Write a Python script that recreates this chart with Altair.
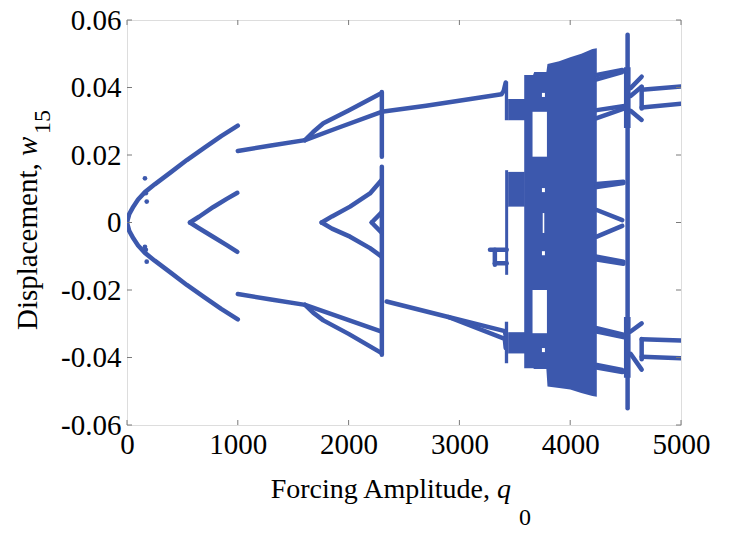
import altair as alt
import pandas as pd

BLUE = "#3c58ad"
GREY = "#7a7a7a"
FONT = "Liberation Serif"

# ---------------- curved branches (forcing amplitude q0, displacement w15) ----------------
p1_q = [0, 20, 57, 100, 162, 250, 400, 540, 700, 850, 1000]
p1_upper = [0, 0.0025, 0.0047, 0.0068, 0.0090, 0.0113, 0.0150, 0.0185, 0.0222, 0.0256, 0.0287]
p1_lower = [0, -0.0025, -0.0047, -0.0068, -0.0090, -0.0113, -0.0150, -0.0185, -0.0222, -0.0256, -0.0287]

cusp1_q = [568, 650, 780, 900, 996]
cusp1_upper = [0, 0.0017, 0.0046, 0.0070, 0.0088]
cusp1_lower = [0, -0.0017, -0.0043, -0.0067, -0.0087]

p2_q = [1000, 1300, 1607]
p2_upper = [0.0212, 0.0228, 0.0244]
p2_lower = [-0.0212, -0.0228, -0.0244]

outer_q = [1607, 1680, 1772, 2000, 2298]
outer_upper = [0.0244, 0.0268, 0.0294, 0.0332, 0.0384]
outer_lower = [-0.0244, -0.0267, -0.0290, -0.0330, -0.0387]

inner_up_q = [1607, 1900, 2298, 2700, 3100, 3380, 3400, 3418]
inner_up_w = [0.0244, 0.0280, 0.0328, 0.0346, 0.0366, 0.0380, 0.0390, 0.0415]
inner_lo_q = [1607, 2298]
inner_lo_w = [-0.0244, -0.0323]

cusp2_q = [1757, 1850, 2013, 2193, 2298]
cusp2_upper = [0, 0.0018, 0.0047, 0.0086, 0.0126]
cusp2_lower = [0, -0.0018, -0.0042, -0.0076, -0.0101]

post_a_q = [2343, 2900, 3410, 3418]
post_a_w = [-0.0234, -0.0280, -0.0322, -0.0335]
post_b_q = [2900, 3410, 3418]
post_b_w = [-0.0280, -0.0345, -0.0372]

curves = [
    ("p1u", p1_q, p1_upper), ("p1l", p1_q, p1_lower),
    ("c1u", cusp1_q, cusp1_upper), ("c1l", cusp1_q, cusp1_lower),
    ("p2u", p2_q, p2_upper), ("p2l", p2_q, p2_lower),
    ("ou", outer_q, outer_upper), ("ol", outer_q, outer_lower),
    ("iu", inner_up_q, inner_up_w), ("il", inner_lo_q, inner_lo_w),
    ("c2u", cusp2_q, cusp2_upper), ("c2l", cusp2_q, cusp2_lower),
    ("pa", post_a_q, post_a_w), ("pb", post_b_q, post_b_w),
]
curve_rows = []
for name, qs, ws in curves:
    for i, (q, w) in enumerate(zip(qs, ws)):
        curve_rows.append({"branch": name, "seq": i, "q": q, "w": w})
curve_df = pd.DataFrame(curve_rows)

# ---------------- straight segments ----------------
seg_q0 = [2300, 2300, 2298, 2208,
          3276, 3320, 3320,
          4240, 4240, 4240, 4240, 4240, 4240, 4240, 4240, 4240, 4240, 4240, 4240, 4240, 4240,
          4518,
          4545, 4545, 4645, 4545, 4545, 4645, 4545,
          4645, 4645, 4645, 4645]
seg_q1 = [2300, 2300, 2208, 2298,
          3427, 3427, 3320,
          4470, 4470, 4490, 4490, 4480, 4480, 4470, 4470, 4480, 4480, 4490, 4490, 4470, 4470,
          4518,
          4645, 4645, 4645, 4645, 4645, 4645, 4645,
          5000, 5000, 5000, 5000]
seg_w0 = [0.0387, 0.0165, 0.0030, 0.0,
          -0.0081, -0.0121, -0.0081,
          0.0437, 0.0424, 0.0333, 0.0309, 0.0114, 0.0105, 0.0037, -0.0042, -0.0101, -0.0110, -0.0313, -0.0323, -0.0422, -0.0430,
          -0.0550,
          0.0398, 0.0375, 0.0402, 0.0331, -0.0323, -0.0345, -0.0389,
          0.0393, 0.0341, -0.0346, -0.0398]
seg_w1 = [0.0195, -0.0392, 0.0, -0.0030,
          -0.0081, -0.0121, -0.0125,
          0.0452, 0.0446, 0.0345, 0.0338, 0.0121, 0.0117, 0.0007, -0.0010, -0.0116, -0.0122, -0.0333, -0.0340, -0.0437, -0.0443,
          0.0556,
          0.0432, 0.0402, 0.0338, 0.0304, -0.0299, -0.0405, -0.0436,
          0.0403, 0.0352, -0.0350, -0.0402]
seg_df = pd.DataFrame({"q0": seg_q0, "q1": seg_q1, "w0": seg_w0, "w1": seg_w1})

# ---------------- chaotic envelope (upper and lower edge of the attractor) ----------------
chaos_q = [3585, 3665, 3675, 3785, 3795, 3900, 4000, 4100, 4200, 4240]
chaos_top = [0.0437, 0.0437, 0.0446, 0.0446, 0.0470, 0.0478, 0.0490, 0.0500, 0.0514, 0.0516]
chaos_bottom = [-0.0432, -0.0432, -0.0434, -0.0434, -0.0486, -0.0490, -0.0495, -0.0505, -0.0514, -0.0516]
chaos_df = pd.DataFrame({"q": chaos_q, "top": chaos_top, "bottom": chaos_bottom})

# smaller filled bands around the onset of chaos and at the crisis line
band_q0 = [3410, 3440, 3440, 3413, 3410, 3440, 4485, 4485]
band_q1 = [3440, 3592, 3590, 3440, 3440, 3592, 4545, 4545]
band_w0 = [0.0303, 0.0303, 0.0047, -0.0155, -0.0417, -0.0388, 0.0280, -0.0460]
band_w1 = [0.0417, 0.0366, 0.0150, 0.0155, -0.0294, -0.0325, 0.0460, -0.0280]
band_df = pd.DataFrame({"q0": band_q0, "q1": band_q1, "w0": band_w0, "w1": band_w1})

# periodic windows inside the chaotic band
hole_q0 = [3660, 3660, 3745, 3745, 3745, 3745, 3752]
hole_q1 = [3790, 3790, 3772, 3772, 3772, 3772, 3766]
hole_w0 = [0.0195, -0.0328, 0.0372, 0.0090, -0.0097, -0.0384, -0.0031]
hole_w1 = [0.0328, -0.0200, 0.0384, 0.0102, -0.0085, -0.0372, 0.0028]
hole_df = pd.DataFrame({"q0": hole_q0, "q1": hole_q1, "w0": hole_w0, "w1": hole_w1})

# isolated points near the first bifurcation
dot_q = [162, 170, 178, 162, 170, 178]
dot_w = [0.0131, 0.0087, 0.0062, -0.0072, -0.0081, -0.0116]
dot_df = pd.DataFrame({"q": dot_q, "w": dot_w})

x_ticks = [0, 1000, 2000, 3000, 4000, 5000]
y_ticks = [-0.06, -0.04, -0.02, 0, 0.02, 0.04, 0.06]

W, H = 554, 405
xs = alt.Scale(domain=[0, 5000], nice=False, zero=False)
ys = alt.Scale(domain=[-0.06, 0.06], nice=False, zero=False)

x_axis = alt.Axis(values=x_ticks, ticks=False, domain=False, grid=False, labelFont=FONT,
                  labelFontSize=29, labelColor="black", labelPadding=5, title=None,
                  format="d", labelFlush=False)
y_axis = alt.Axis(values=y_ticks, ticks=False, domain=False, grid=False, labelFont=FONT,
                  labelFontSize=29, labelColor="black", labelPadding=6, title=None,
                  labelExpr="datum.value == 0 ? '0' : (datum.value < 0 ? '-' + format(-datum.value, '.2f') : format(datum.value, '.2f'))")

chaos = alt.Chart(chaos_df).mark_area(color=BLUE, opacity=1, interpolate="linear").encode(
    x=alt.X("q:Q", scale=xs, axis=x_axis),
    y=alt.Y("top:Q", scale=ys, axis=y_axis), y2="bottom:Q")

bands = alt.Chart(band_df).mark_rect(color=BLUE).encode(
    x=alt.X("q0:Q", scale=xs), x2="q1:Q", y=alt.Y("w0:Q", scale=ys), y2="w1:Q")

holes = alt.Chart(hole_df).mark_rect(color="white").encode(
    x=alt.X("q0:Q", scale=xs), x2="q1:Q", y=alt.Y("w0:Q", scale=ys), y2="w1:Q")

lines = alt.Chart(curve_df).mark_line(color=BLUE, strokeWidth=4.5, strokeCap="round",
                                      strokeJoin="round", clip=True).encode(
    x=alt.X("q:Q", scale=xs), y=alt.Y("w:Q", scale=ys), detail="branch:N", order="seq:Q")

segs = alt.Chart(seg_df).mark_rule(color=BLUE, strokeWidth=4.5, strokeCap="round", clip=True).encode(
    x=alt.X("q0:Q", scale=xs), x2="q1:Q", y=alt.Y("w0:Q", scale=ys), y2="w1:Q")

dots = alt.Chart(dot_df).mark_circle(color=BLUE, size=22, opacity=1).encode(
    x=alt.X("q:Q", scale=xs), y=alt.Y("w:Q", scale=ys))

# inward tick marks on all four sides of the box
xt_df = pd.DataFrame({"t": x_ticks})
yt_df = pd.DataFrame({"t": y_ticks})
tick_style = dict(color=GREY, strokeWidth=1)
xt_bottom = alt.Chart(xt_df).mark_rule(**tick_style).encode(
    x=alt.X("t:Q", scale=xs), y=alt.value(H), y2=alt.value(H - 5))
xt_top = alt.Chart(xt_df).mark_rule(**tick_style).encode(
    x=alt.X("t:Q", scale=xs), y=alt.value(0), y2=alt.value(5))
yt_left = alt.Chart(yt_df).mark_rule(**tick_style).encode(
    y=alt.Y("t:Q", scale=ys), x=alt.value(0), x2=alt.value(5))
yt_right = alt.Chart(yt_df).mark_rule(**tick_style).encode(
    y=alt.Y("t:Q", scale=ys), x=alt.value(W), x2=alt.value(W - 5))

# axis titles with italic symbol and subscript
x_title = ["Forcing Amplitude,", "q", "0"]
y_title = ["Displacement,", "w", "15"]
one = pd.DataFrame({"k": [0]})


def label(text, x, y, size=29, style="normal", align="left", angle=0):
    return alt.Chart(one).mark_text(text=text, font=FONT, fontSize=size, fontStyle=style,
                                    align=align, baseline="alphabetic", angle=angle,
                                    color="black").encode(x=alt.value(x), y=alt.value(y))


titles = [
    label(x_title[0], 363, 478, size=28, align="right"),
    label(x_title[1], 370, 478, size=28, style="italic"),
    label(x_title[2], 392, 505, size=24),
    label(y_title[0], -90, 310, angle=270),
    label(y_title[1], -90, 136, style="italic", angle=270),
    label(y_title[2], -77, 114, size=24, angle=270),
]

chart = alt.layer(chaos, bands, holes, lines, segs, dots, xt_bottom, xt_top, yt_left, yt_right, *titles).properties(
    width=W, height=H,
    padding={"left": 127, "top": 20, "right": 48, "bottom": 108},
    autosize=alt.AutoSizeParams(type="none"),
).configure_view(stroke=GREY, strokeWidth=1).configure(background="white")

chart.save("out.html", embed_options={"renderer": "svg", "actions": False})
